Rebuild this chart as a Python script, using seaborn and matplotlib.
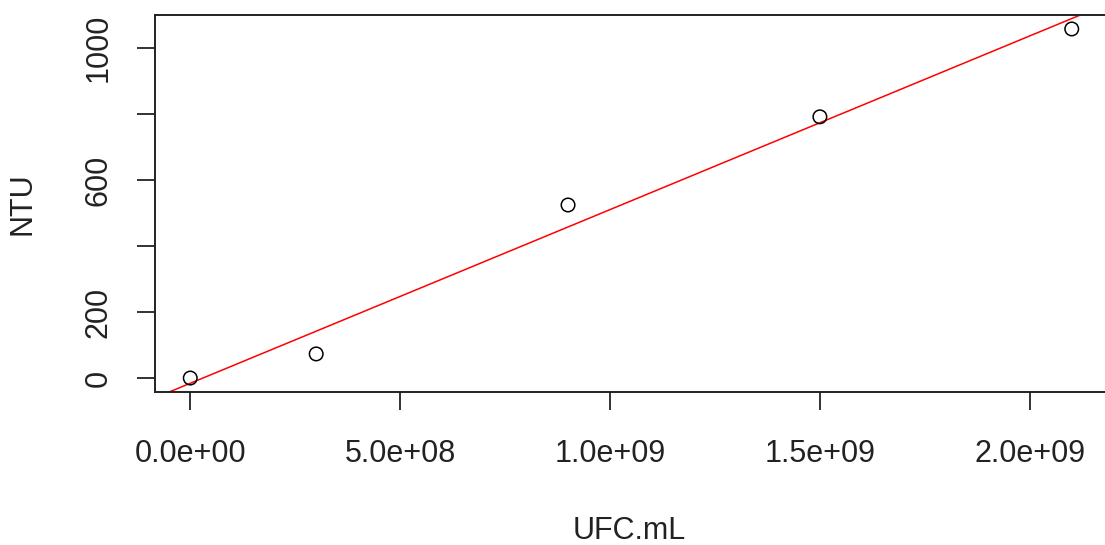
import numpy as np
import pandas as pd
import matplotlib
matplotlib.use("Agg")
import matplotlib.pyplot as plt
import seaborn as sns

# Data
ufc_ml = [0.0, 3.0e8, 9.0e8, 1.5e9, 2.1e9]
ntu = [0, 73, 524, 791, 1057]
x_ticks = [0.0, 5.0e8, 1.0e9, 1.5e9, 2.0e9]
x_tick_labels = ["0.0e+00", "5.0e+08", "1.0e+09", "1.5e+09", "2.0e+09"]
y_ticks = [0, 200, 400, 600, 800, 1000]
y_tick_labels = ["0", "200", "", "600", "", "1000"]

df = pd.DataFrame({"UFC.mL": ufc_ml, "NTU": ntu})

sns.set_theme(style="white")
plt.rcParams["font.family"] = ["Liberation Sans", "DejaVu Sans"]

fig = plt.figure(figsize=(11.05, 5.45), dpi=100)
ax = fig.add_axes([155 / 1105, (545 - 392) / 545, (1107 - 155) / 1105, (392 - 15) / 545])

sns.scatterplot(data=df, x="UFC.mL", y="NTU", ax=ax, marker="o", s=95,
                facecolor="none", edgecolor="black", linewidth=1.1, zorder=3)

slope, intercept = np.polyfit(df["UFC.mL"], df["NTU"], 1)
ax.axline((0, intercept), slope=slope, color="red", linewidth=1.1, zorder=2)

xr = max(ufc_ml) - min(ufc_ml)
yr = max(ntu) - min(ntu)
ax.set_xlim(min(ufc_ml) - 0.04 * xr, max(ufc_ml) + 0.04 * xr)
ax.set_ylim(min(ntu) - 0.04 * yr, max(ntu) + 0.04 * yr)

ax.set_xticks(x_ticks)
ax.set_xticklabels(x_tick_labels)
ax.set_yticks(y_ticks)
ax.set_yticklabels(y_tick_labels, rotation=90, va="center")

ax.tick_params(axis="both", which="major", direction="out", length=13, width=1.3,
               color="#222222", labelsize=22, labelcolor="#222222",
               bottom=True, left=True)
ax.tick_params(axis="x", pad=21)
ax.tick_params(axis="y", pad=17)

for s in ax.spines.values():
    s.set_visible(True)
    s.set_color("#222222")
    s.set_linewidth(1.4)

ax.set_xlabel("UFC.mL", fontsize=22, color="#222222")
ax.set_ylabel("NTU", fontsize=22, color="#222222")
ax.xaxis.set_label_coords(0.498, -0.330)
ax.yaxis.set_label_coords(-0.1229, 0.5)

fig.savefig("out.png", dpi=100)
